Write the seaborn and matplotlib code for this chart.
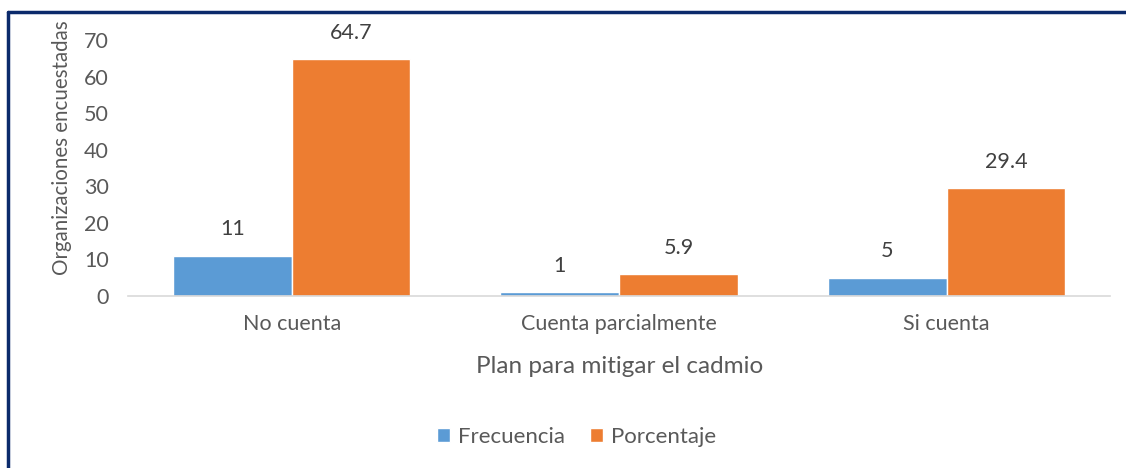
import matplotlib
matplotlib.use("Agg")
import matplotlib.pyplot as plt
import seaborn as sns
import pandas as pd
from matplotlib.lines import Line2D

categories = ["No cuenta", "Cuenta parcialmente", "Si cuenta"]
frecuencia = [11, 1, 5]
porcentaje = [64.7, 5.9, 29.4]
series_names = ["Frecuencia", "Porcentaje"]

df = pd.DataFrame({
    "cat": categories * 2,
    "serie": [series_names[0]] * 3 + [series_names[1]] * 3,
    "val": frecuencia + porcentaje,
})

sns.set_theme(style="white")
plt.rcParams["font.family"] = ["Lato", "DejaVu Sans"]
txt = "#595959"

fig = plt.figure(figsize=(11.26, 4.68), dpi=100)
ax = fig.add_axes([0.1137, 0.3675, 0.8723, 0.547])
sns.barplot(data=df, x="cat", y="val", hue="serie", order=categories,
            hue_order=series_names, palette=["#5b9bd5", "#ed7d31"],
            width=0.725, saturation=1, ax=ax, legend=True)
for c in ax.containers:
    ax.bar_label(c, fmt="%g", padding=12, fontsize=15.5, color="#404040")

ax.set_ylim(0, 70)
ax.set_xlim(-0.5, 2.5)
ax.set_yticks(range(0, 71, 10))
ax.tick_params(axis="both", labelsize=15.5, colors=txt, length=0)
ax.tick_params(axis="x", pad=13)
ax.tick_params(axis="y", pad=14)
for s in ["top", "right", "left"]:
    ax.spines[s].set_visible(False)
ax.spines["bottom"].set_color("#d9d9d9")
ax.spines["bottom"].set_linewidth(1.2)
ax.set_xlabel("Plan para mitigar el cadmio", fontsize=17.5, color=txt)
ax.set_ylabel("Organizaciones encuestadas", fontsize=14.8, color=txt)
ax.xaxis.set_label_coords(0.5, -0.235)
ax.yaxis.set_label_coords(-0.057, 0.58)

ax.legend(loc="center", bbox_to_anchor=(0.512, 0.066), bbox_transform=fig.transFigure,
          ncol=2, frameon=False, fontsize=16, handlelength=0.6, handleheight=0.6,
          columnspacing=1.1, handletextpad=0.35, labelcolor=txt)

fig.add_artist(Line2D([8/1126, 8/1126], [0, 1 - 12/468], transform=fig.transFigure,
                      color="#0b2a6b", lw=2.5))
fig.add_artist(Line2D([8/1126, 1], [1 - 12/468, 1 - 12/468], transform=fig.transFigure,
                      color="#0b2a6b", lw=2.5))

fig.savefig("out.png", dpi=100)
